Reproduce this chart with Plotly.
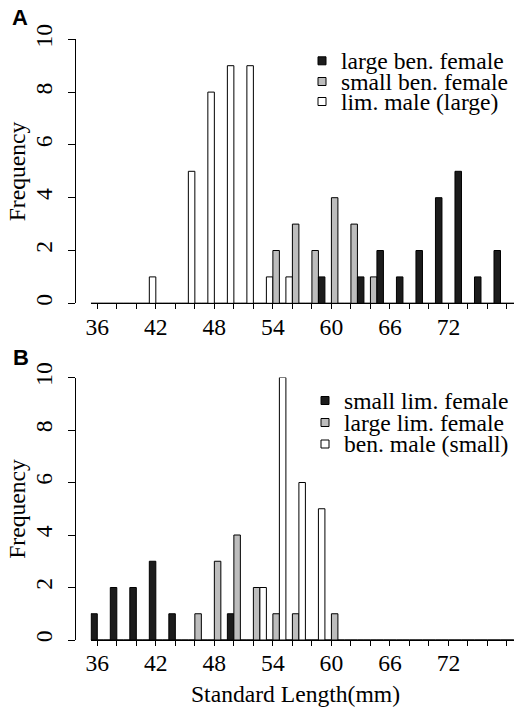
import plotly.graph_objects as go

# ---------------- data ----------------
bins = [36, 38, 40, 42, 44, 46, 48, 50, 52, 54, 56, 58, 60, 62, 64, 66, 68, 70, 72, 74, 76, 78]
tick_labels = ["36", "", "", "42", "", "", "48", "", "", "54", "", "", "60", "", "", "66", "", "", "72", "", "", ""]
y_ticks = [0, 2, 4, 6, 8, 10]

# Panel A
a_names = ["large ben. female", "small ben. female", "lim. male (large)"]
a_large_ben_female = [0, 0, 0, 0, 0, 0, 0, 0, 0, 0, 0, 1, 0, 1, 2, 1, 2, 4, 5, 1, 2, 0]
a_small_ben_female = [0, 0, 0, 0, 0, 0, 0, 0, 0, 2, 3, 2, 4, 3, 1, 0, 0, 0, 0, 0, 0, 0]
a_lim_male_large = [0, 0, 0, 1, 0, 5, 8, 9, 9, 1, 1, 0, 0, 0, 0, 0, 0, 0, 0, 0, 0, 0]

# Panel B
b_names = ["small lim. female", "large lim. female", "ben. male (small)"]
b_small_lim_female = [1, 2, 2, 3, 1, 0, 0, 1, 0, 0, 0, 0, 0, 0, 0, 0, 0, 0, 0, 0, 0, 0]
b_large_lim_female = [0, 0, 0, 0, 0, 1, 3, 4, 2, 1, 1, 0, 1, 0, 0, 0, 0, 0, 0, 0, 0, 0]
b_ben_male_small = [0, 0, 0, 0, 0, 0, 0, 0, 2, 10, 6, 5, 0, 0, 0, 0, 0, 0, 0, 0, 0, 0]

# ---------------- style / layout ----------------
W, H = 514, 707
BLACK = "#1c1c1c"
GRAY = "#bdbdbd"
WHITE = "#ffffff"
SERIF = "Liberation Serif, Times New Roman, serif"
SANS = "Liberation Sans, Arial, sans-serif"
FS = 23.6

bin_w = bins[1] - bins[0]
bar_w = bin_w / 3.0

# pixel geometry measured from reference
PX_FIRST, PX_LAST = 97.3, 507.0
ppm = (PX_LAST - PX_FIRST) / (bins[-1] - bins[0])
x_left_mm = bins[0] - bar_w
dom_left_px = PX_FIRST - (bins[0] - x_left_mm) * ppm
x_right_mm = bins[0] + (W - PX_FIRST) / ppm
YAX_PX = 75.0

panelA = dict(top=39.3, bottom=303.3)
panelB = dict(top=377.5, bottom=640.0)


def ydom(p):
    return [1 - p["bottom"] / H, 1 - p["top"] / H]


fig = go.Figure()


def add_bar(vals, color, off, xa, ya, name):
    fig.add_trace(go.Bar(
        x=bins, y=vals, width=bar_w, offset=off, name=name,
        marker=dict(color=color, line=dict(color="black", width=1)),
        xaxis=xa, yaxis=ya, showlegend=False,
    ))


# Panel A: order within group white, gray, black
add_bar(a_lim_male_large, WHITE, -bar_w, "x", "y", a_names[2])
add_bar(a_small_ben_female, GRAY, 0, "x", "y", a_names[1])
add_bar(a_large_ben_female, BLACK, bar_w, "x", "y", a_names[0])
# Panel B: order within group black, gray, white
add_bar(b_small_lim_female, BLACK, -bar_w, "x2", "y2", b_names[0])
add_bar(b_large_lim_female, GRAY, 0, "x2", "y2", b_names[1])
add_bar(b_ben_male_small, WHITE, bar_w, "x2", "y2", b_names[2])

xcommon = dict(
    domain=[dom_left_px / W, 1.0], range=[x_left_mm, x_right_mm],
    showline=True, linecolor="black", linewidth=1, mirror=False,
    ticks="outside", ticklen=5, tickwidth=1, tickcolor="black",
    tickmode="array", tickvals=bins, ticktext=tick_labels,
    tickfont=dict(family=SERIF, size=FS, color="black"),
    ticklabelstandoff=-3,
    showgrid=False, zeroline=False, fixedrange=True, automargin=False,
)
ycommon = dict(
    range=[0, 10], anchor="free", position=YAX_PX / W,
    showline=True, linecolor="black", linewidth=1,
    ticks="outside", ticklen=7, tickwidth=1, tickcolor="black",
    tickmode="array", tickvals=y_ticks, tickangle=-90,
    tickfont=dict(family=SERIF, size=FS, color="black"),
    ticklabelstandoff=7,
    showgrid=False, zeroline=False, fixedrange=True, automargin=False,
)

fig.update_layout(
    width=W, height=H, autosize=False,
    margin=dict(l=0, r=0, t=0, b=0, pad=0),
    paper_bgcolor="white", plot_bgcolor="white",
    barmode="overlay", bargap=0,
    xaxis=dict(anchor="y", **xcommon),
    yaxis=dict(domain=ydom(panelA), **ycommon),
    xaxis2=dict(anchor="y2", **xcommon),
    yaxis2=dict(domain=ydom(panelB), **ycommon),
    showlegend=False,
)

ann = []
shapes = []


def py(px):
    return 1 - px / H


def px_x(px):
    return px / W


# panel letters
ann.append(dict(text="<b>A</b>", x=px_x(20), y=py(18), xref="paper", yref="paper",
                showarrow=False, font=dict(family=SANS, size=22, color="black"),
                xanchor="center", yanchor="middle"))
ann.append(dict(text="<b>B</b>", x=px_x(21), y=py(357), xref="paper", yref="paper",
                showarrow=False, font=dict(family=SANS, size=22, color="black"),
                xanchor="center", yanchor="middle"))

# y titles
for p in (panelA, panelB):
    ann.append(dict(text="Frequency", x=px_x(17), y=py((p["top"] + p["bottom"]) / 2),
                    xref="paper", yref="paper", showarrow=False, textangle=-90,
                    font=dict(family=SERIF, size=FS, color="black"),
                    xanchor="center", yanchor="middle"))

# x title
ann.append(dict(text="Standard Length(mm)", x=px_x(295), y=py(694), xref="paper", yref="paper",
                showarrow=False, font=dict(family=SERIF, size=FS, color="black"),
                xanchor="center", yanchor="middle"))

# legends (manual, R-style compact)
legA = dict(names=a_names, colors=[BLACK, GRAY, WHITE], sq_x=322.0, text_x=339.0,
            rows=[60.8, 81.5, 101.5])
legB = dict(names=b_names, colors=[BLACK, GRAY, WHITE], sq_x=325.0, text_x=341.5,
            rows=[400.5, 422.5, 444.0])
for leg in (legA, legB):
    for name, col, ry in zip(leg["names"], leg["colors"], leg["rows"]):
        s = 4.0
        shapes.append(dict(type="rect", xref="paper", yref="paper",
                           x0=px_x(leg["sq_x"] - s), x1=px_x(leg["sq_x"] + s),
                           y0=py(ry + s), y1=py(ry - s),
                           fillcolor=col, line=dict(color="black", width=1)))
        ann.append(dict(text=name, x=px_x(leg["text_x"]), y=py(ry), xref="paper", yref="paper",
                        showarrow=False, font=dict(family=SERIF, size=FS, color="black"),
                        xanchor="left", yanchor="middle"))

fig.update_layout(annotations=ann, shapes=shapes)
fig.write_html(
    "out.html",
    config={"displayModeBar": False, "staticPlot": True},
    post_script="document.body.style.margin='0';document.body.style.overflow='hidden';",
)
